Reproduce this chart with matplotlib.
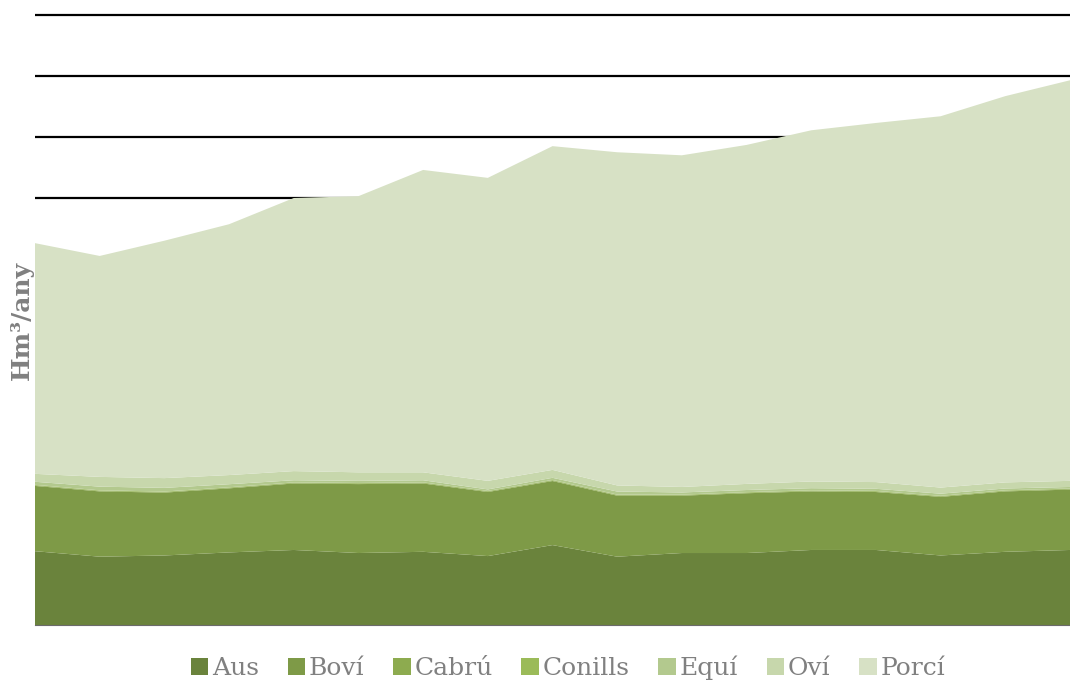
import matplotlib
matplotlib.use('Agg')
import matplotlib.pyplot as plt
import numpy as np

# anys de la serie (sense etiquetes visibles a l'eix)
anys = list(range(2000, 2017))

# Hm3/any per tipus de bestiar
aus = [1.21, 1.12, 1.14, 1.19, 1.23, 1.18, 1.20, 1.13, 1.31, 1.12, 1.18, 1.18, 1.23, 1.23, 1.14, 1.20, 1.23]
bovi = [1.07, 1.07, 1.03, 1.05, 1.09, 1.13, 1.12, 1.05, 1.05, 1.00, 0.94, 0.98, 0.96, 0.95, 0.96, 0.99, 0.99]
cabru = [0.012, 0.012, 0.012, 0.012, 0.012, 0.012, 0.012, 0.012, 0.012, 0.012, 0.012, 0.012, 0.012, 0.012, 0.012, 0.012, 0.012]
conills = [0.006, 0.006, 0.006, 0.006, 0.006, 0.006, 0.006, 0.006, 0.006, 0.006, 0.006, 0.006, 0.006, 0.006, 0.006, 0.006, 0.006]
equi = [0.05, 0.06, 0.06, 0.05, 0.035, 0.035, 0.035, 0.025, 0.035, 0.05, 0.035, 0.035, 0.035, 0.035, 0.035, 0.03, 0.025]
ovi = [0.13, 0.16, 0.16, 0.15, 0.15, 0.14, 0.13, 0.14, 0.13, 0.10, 0.09, 0.10, 0.11, 0.11, 0.10, 0.10, 0.10]
total = [6.26, 6.05, 6.30, 6.57, 7.00, 7.03, 7.46, 7.33, 7.85, 7.75, 7.70, 7.87, 8.11, 8.23, 8.34, 8.67, 8.93]

noms = ['Aus', 'Boví', 'Cabrú', 'Conills', 'Equí', 'Oví', 'Porcí']
colors = ['#6a833c', '#7e9a47', '#8dab4f', '#9bbb59', '#b3c98e', '#c7d7ac', '#d7e1c5']

resta = np.array(aus) + np.array(bovi) + np.array(cabru) + np.array(conills) + np.array(equi) + np.array(ovi)
porci = list(np.array(total) - resta)

fig = plt.figure(figsize=(10.70, 6.85), dpi=100)
ax = fig.add_axes([35 / 1070, 60 / 685, 1 - 35 / 1070, 620 / 685])

ax.stackplot(anys, aus, bovi, cabru, conills, equi, ovi, porci,
             colors=colors, labels=noms, zorder=3, linewidth=0)

ax.set_xlim(anys[0], anys[-1])
ax.set_ylim(0, 10 * 620 / 610)
ax.set_yticks(np.arange(1, 11))
ax.yaxis.grid(True, color='black', linewidth=1.6, zorder=0, solid_capstyle='butt')
ax.set_axisbelow(True)
ax.set_xticks([])
ax.tick_params(left=False, labelleft=False)
for s in ['top', 'right', 'left']:
    ax.spines[s].set_visible(False)
ax.spines['bottom'].set_color('#6b6b6b')
ax.spines['bottom'].set_zorder(4)

fig.text(22 / 1070, 1 - 320 / 685, 'Hm³/any', rotation=90, ha='center', va='center',
         fontsize=18, fontweight='bold', color='#808080', family='DejaVu Serif')

h, l = ax.get_legend_handles_labels()
fig.legend(h, l, loc='center', bbox_to_anchor=(568 / 1070, 1 - 668 / 685), ncol=7,
           frameon=False, handlelength=0.7, handleheight=0.7, handletextpad=0.15,
           columnspacing=1.15, prop={'family': 'DejaVu Serif', 'size': 18},
           labelcolor='#808080')

fig.savefig('out.png', dpi=100)
